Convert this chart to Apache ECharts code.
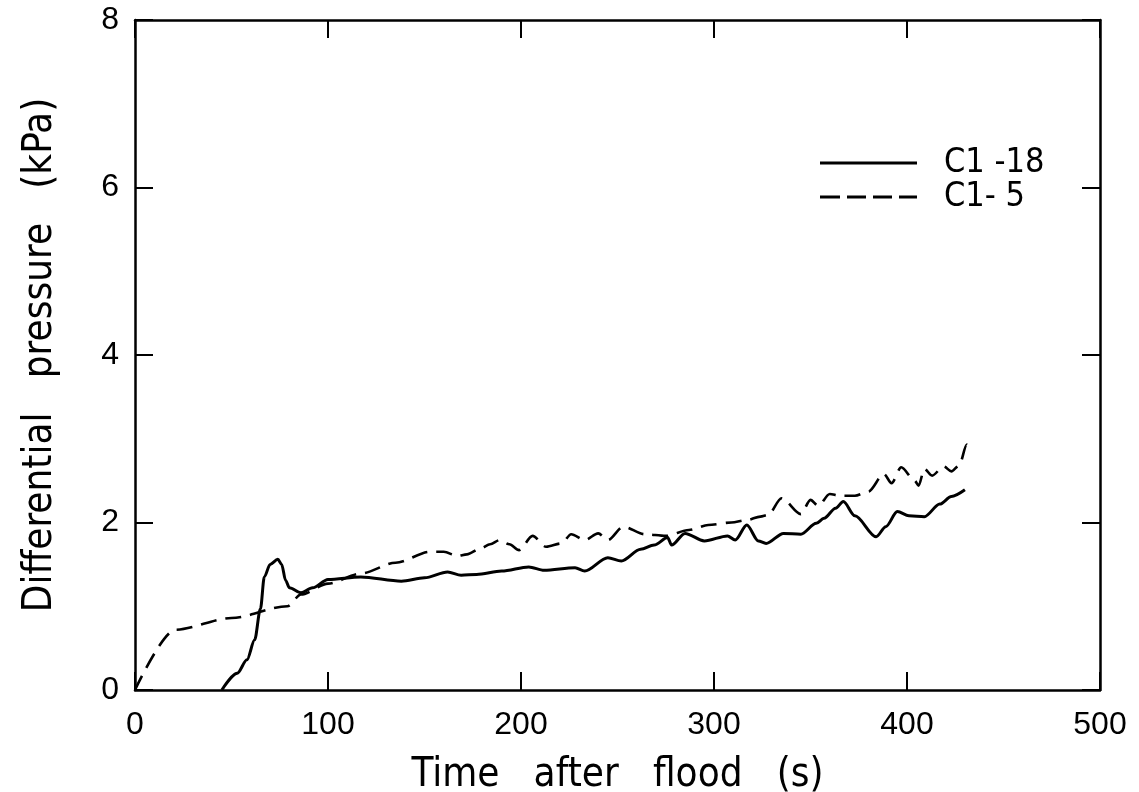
<!DOCTYPE html>
<html>
<head>
<meta charset="utf-8">
<script src="https://cdn.jsdelivr.net/npm/echarts@6/dist/echarts.min.js"></script>
<style>html,body{margin:0;padding:0;background:#fff}#c{width:1139px;height:792px}</style>
</head>
<body>
<div id="c"></div>
<script>
// Data
const xTicks = [0, 100, 200, 300, 400, 500];
const yTicks = [0, 2, 4, 6, 8];

const c118Time = [45,53,58,62,65,67,70,74,76,78,80,86,92,100,117,138,150,162,169,177,190,204,212,228,233,245,252,262,269,276,278,285,295,307,311,317,323,327,336,345,353,357,363,367,373,384,389,395,401,409,417,423,430];
const c118Val  = [0,0.2,0.36,0.6,0.97,1.35,1.5,1.56,1.5,1.31,1.22,1.16,1.22,1.32,1.35,1.3,1.34,1.41,1.37,1.38,1.42,1.47,1.43,1.46,1.42,1.58,1.54,1.68,1.73,1.82,1.73,1.87,1.78,1.84,1.79,1.97,1.78,1.75,1.87,1.86,1.99,2.05,2.17,2.25,2.08,1.83,1.95,2.13,2.08,2.07,2.22,2.31,2.39];

const c15Time = [0,21,50,79,86,100,117,135,153,160,167,172,179,184,189,194,199,206,213,221,226,233,240,245,253,264,275,287,297,309,317,324,328,335,345,350,354,360,365,373,380,388,392,397,404,406,409,413,419,423,427,431,433];
const c15Val  = [0,0.72,0.86,1.0,1.14,1.27,1.39,1.52,1.65,1.65,1.6,1.62,1.69,1.74,1.79,1.74,1.67,1.84,1.71,1.75,1.86,1.79,1.87,1.79,1.95,1.86,1.84,1.91,1.97,2.0,2.03,2.07,2.09,2.29,2.1,2.27,2.2,2.34,2.32,2.32,2.37,2.58,2.47,2.66,2.5,2.44,2.64,2.56,2.67,2.61,2.68,2.93,2.83];

const pairs = (t, v) => t.map((x, i) => [x, v[i]]);
const FONT = "'DejaVu Sans Condensed', 'Liberation Sans', sans-serif";
const TICKFONT = "'Liberation Sans', sans-serif";
const axisLine = {show: true, onZero: false, lineStyle: {color: '#000', width: 2.5}};
const tick = {inside: true, length: 18, lineStyle: {color: '#000', width: 2}};

const chart = echarts.init(document.getElementById('c'));
chart.setOption({
  animation: false,
  backgroundColor: '#fff',
  grid: {left: 135, right: 39, top: 20, bottom: 102, outerBoundsMode: 'none', containLabel: false},
  legend: {
    left: 815, top: 141, orient: 'vertical', itemWidth: 97, itemHeight: 3, itemGap: 0,
    textStyle: {fontFamily: FONT, fontSize: 34, lineHeight: 34, color: '#000', padding: [0,0,0,22]},
    data: [
      {name: 'C1 -18', icon: 'path://M0,0H97V3H0Z'},
      {name: 'C1- 5', icon: 'path://M0,0H20V3H0Z M27,0H46V3H27Z M53,0H72V3H53Z M79,0H97V3H79Z'}
    ]
  },
  xAxis: [{
    type: 'value', min: xTicks[0], max: xTicks[xTicks.length-1], interval: 100,
    axisLine, splitLine: {show: false}, axisTick: tick,
    axisLabel: {fontFamily: TICKFONT, fontSize: 32, color: '#000', margin: 19},
    name: 'Time   after   flood   (s)', nameLocation: 'middle', nameGap: 66,
    nameTextStyle: {fontFamily: FONT, fontSize: 40, color: '#000'}
  }, {
    type: 'value', position: 'top', min: 0, max: 500, interval: 100,
    axisLine, splitLine: {show: false}, axisLabel: {show: false}, axisTick: tick
  }],
  yAxis: [{
    type: 'value', min: yTicks[0], max: yTicks[yTicks.length-1], interval: 2,
    axisLine, splitLine: {show: false}, axisTick: tick,
    axisLabel: {fontFamily: TICKFONT, fontSize: 32, color: '#000', margin: 16},
    name: 'Differential   pressure   (kPa)', nameLocation: 'middle', nameGap: 74,
    nameTextStyle: {fontFamily: FONT, fontSize: 40, color: '#000'}
  }, {
    type: 'value', position: 'right', min: 0, max: 8, interval: 2,
    axisLine, splitLine: {show: false}, axisLabel: {show: false}, axisTick: tick
  }],
  series: [{
    name: 'C1 -18', type: 'line', symbol: 'none', smooth: 0.3, smoothMonotone: 'x',
    lineStyle: {color: '#000', width: 3}, itemStyle: {color: '#000'},
    data: pairs(c118Time, c118Val)
  }, {
    name: 'C1- 5', type: 'line', symbol: 'none', smooth: 0.3, smoothMonotone: 'x',
    lineStyle: {color: '#000', width: 2.6, type: [16, 9]}, itemStyle: {color: '#000'},
    data: pairs(c15Time, c15Val)
  }]
});
</script>
</body>
</html>
